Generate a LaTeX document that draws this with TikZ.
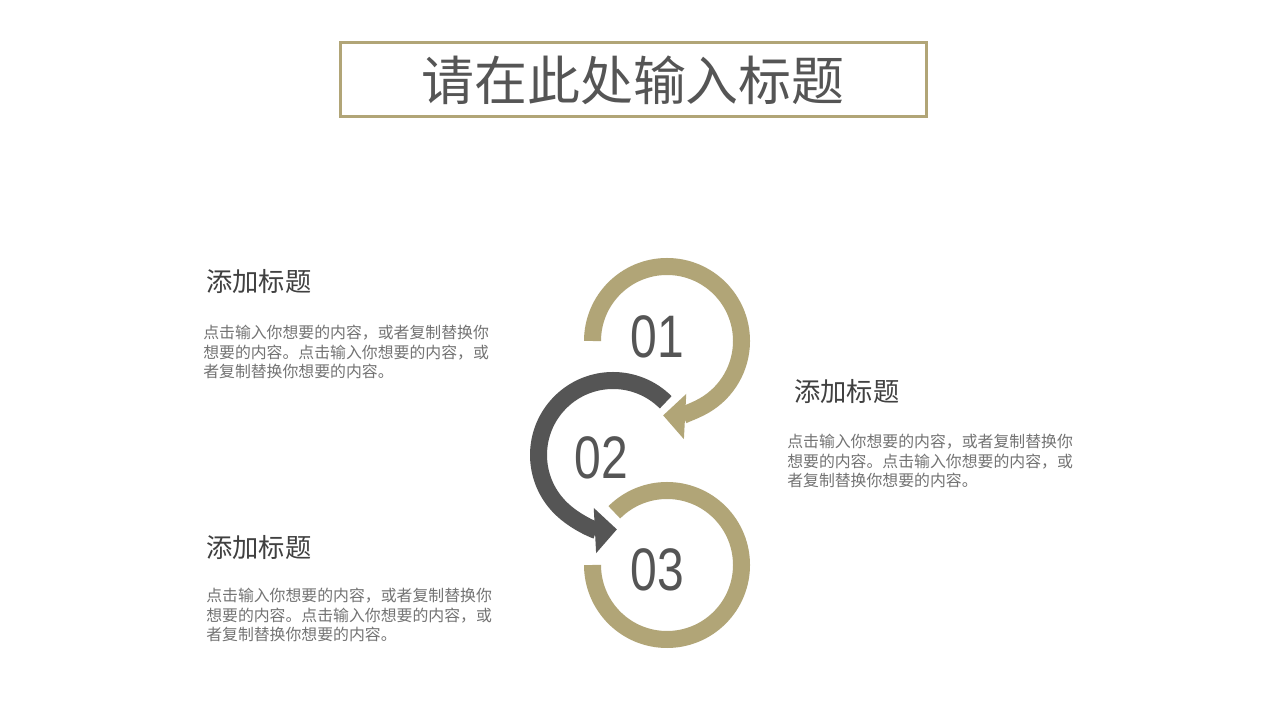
\documentclass[tikz,border=0pt]{standalone}
\usepackage{fontspec}
\setmainfont{Noto Sans CJK SC}
\newfontfamily\digitfont{Liberation Sans}
\usetikzlibrary{arrows.meta}

\definecolor{gold}{HTML}{B1A577}
\definecolor{darkring}{HTML}{555555}
\definecolor{headgray}{HTML}{404040}
\definecolor{bodygray}{HTML}{737373}

\begin{document}
\begin{tikzpicture}[x=0.75pt,y=0.75pt,
  ring/.style={line width=12.75pt},
  ringtip/.style={-{Triangle[length=16.5pt,width=33pt]}},
  number/.style={font=\digitfont\fontsize{45}{45}\selectfont, text=darkring, xscale=0.8, inner sep=0pt},
  heading/.style={font=\fontsize{19.7}{24}\selectfont, text=headgray, anchor=west, inner sep=0pt},
  bodytext/.style={font=\fontsize{11.9}{14.6}\selectfont, text=bodygray, anchor=west, align=left, inner sep=0pt}]
\useasboundingbox (0,0) rectangle (1280,720);
\fill [white] (0,0) rectangle (1280,720);

% title box
\draw [gold, line width=2.25pt] (340,677) rectangle (926,603);
\node (title) [font=\fontsize{39.7}{44}\selectfont, text=darkring, inner sep=0pt] at (633,640) {请在此处输入标题};

% circles
\coordinate (c1) at (667,379);
\coordinate (c2) at (613,265);
\coordinate (c3) at (667,155);

\draw [ring, gold, ringtip] (c1) ++(180:74.5) arc[start angle=180, end angle=-93, radius=74.5];
\draw [ring, darkring, ringtip] (c2) ++(45:74.5) arc[start angle=45, end angle=273, radius=74.5];
\draw [ring, gold] (c3) ++(135:74.5) arc[start angle=135, end angle=-180, radius=74.5];

\node (n1) [number] at (657,383) {01};
\node (n2) [number] at (601,262) {02};
\node (n3) [number] at (657,150) {03};

% text blocks
\node (h1) [heading] at (206,438) {添加标题};
\node (b1) [bodytext] at (203,368) {点击输入你想要的内容，或者复制替换你\\想要的内容。点击输入你想要的内容，或\\者复制替换你想要的内容。};

\node (h2) [heading] at (794,328) {添加标题};
\node (b2) [bodytext] at (787,259) {点击输入你想要的内容，或者复制替换你\\想要的内容。点击输入你想要的内容，或\\者复制替换你想要的内容。};

\node (h3) [heading] at (206,172) {添加标题};
\node (b3) [bodytext] at (206,105) {点击输入你想要的内容，或者复制替换你\\想要的内容。点击输入你想要的内容，或\\者复制替换你想要的内容。};

\end{tikzpicture}
\end{document}
